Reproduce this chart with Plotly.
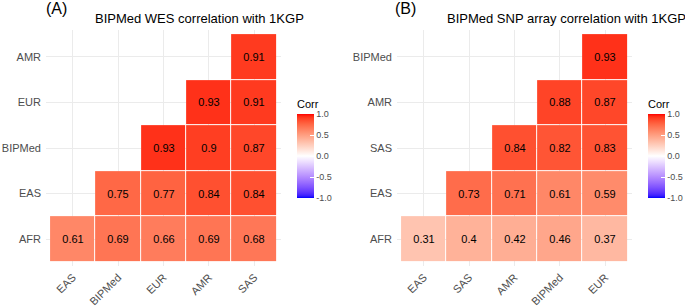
import plotly.graph_objects as go

# ---- data ----
a_x = ["EAS", "BIPMed", "EUR", "AMR", "SAS"]
a_y = ["AFR", "EAS", "BIPMed", "EUR", "AMR"]
a_afr = [0.61, 0.69, 0.66, 0.69, 0.68]
a_eas = [None, 0.75, 0.77, 0.84, 0.84]
a_bipmed = [None, None, 0.93, 0.9, 0.87]
a_eur = [None, None, None, 0.93, 0.91]
a_amr = [None, None, None, None, 0.91]

b_x = ["EAS", "SAS", "AMR", "BIPMed", "EUR"]
b_y = ["AFR", "EAS", "SAS", "AMR", "BIPMed"]
b_afr = [0.31, 0.4, 0.42, 0.46, 0.37]
b_eas = [None, 0.73, 0.71, 0.61, 0.59]
b_sas = [None, None, 0.84, 0.82, 0.83]
b_amr = [None, None, None, 0.88, 0.87]
b_bipmed = [None, None, None, None, 0.93]

title_a = "BIPMed WES correlation with 1KGP"
title_b = "BIPMed SNP array correlation with 1KGP"
cb_vals = [1.0, 0.5, 0.0, -0.5, -1.0]
cb_text = ["1.0", "0.5", "0.0", "-0.5", "-1.0"]

z_a = [a_afr, a_eas, a_bipmed, a_eur, a_amr]
z_b = [b_afr, b_eas, b_sas, b_amr, b_bipmed]

# ---- Lab-interpolated diverging colour scale (blue - white - red) ----
def srgb_to_lab(rgb):
    def lin(c):
        c = c / 255.0
        return c / 12.92 if c <= 0.04045 else ((c + 0.055) / 1.055) ** 2.4
    r, g, b = [lin(c) for c in rgb]
    X = 0.4124 * r + 0.3576 * g + 0.1805 * b
    Y = 0.2126 * r + 0.7152 * g + 0.0722 * b
    Z = 0.0193 * r + 0.1192 * g + 0.9505 * b
    Xn, Yn, Zn = 0.95047, 1.0, 1.08883
    def f(t):
        return t ** (1 / 3) if t > 0.008856 else 7.787 * t + 16 / 116
    fx_, fy_, fz_ = f(X / Xn), f(Y / Yn), f(Z / Zn)
    return (116 * fy_ - 16, 500 * (fx_ - fy_), 200 * (fy_ - fz_))

def lab_to_srgb(lab):
    L, a, b = lab
    fy_ = (L + 16) / 116
    fx_ = fy_ + a / 500
    fz_ = fy_ - b / 200
    def finv(t):
        return t ** 3 if t ** 3 > 0.008856 else (t - 16 / 116) / 7.787
    Xn, Yn, Zn = 0.95047, 1.0, 1.08883
    X, Y, Z = Xn * finv(fx_), Yn * finv(fy_), Zn * finv(fz_)
    r = 3.2406 * X - 1.5372 * Y - 0.4986 * Z
    g = -0.9689 * X + 1.8758 * Y + 0.0415 * Z
    bb = 0.0557 * X - 0.2040 * Y + 1.0570 * Z
    def gam(c):
        c = max(0.0, min(1.0, c))
        return 12.92 * c if c <= 0.0031308 else 1.055 * c ** (1 / 2.4) - 0.055
    return tuple(int(round(gam(c) * 255)) for c in (r, g, bb))

low, mid, high = srgb_to_lab((0, 0, 255)), srgb_to_lab((255, 255, 255)), srgb_to_lab((255, 0, 0))
cscale = []
N = 40
for i in range(N + 1):
    t = i / N
    if t <= 0.5:
        u = t / 0.5
        lab = tuple(low[k] + (mid[k] - low[k]) * u for k in range(3))
    else:
        u = (t - 0.5) / 0.5
        lab = tuple(mid[k] + (high[k] - mid[k]) * u for k in range(3))
    r, g, b = lab_to_srgb(lab)
    cscale.append([t, f"rgb({r},{g},{b})"])

W, H = 685, 306
def fx(px):
    return px / W
def fy(py):
    return 1 - py / H

def txt(z):
    return [["" if v is None else f"{v:g}" for v in row] for row in z]

font_fam = "Liberation Sans, Arial, sans-serif"

fig = go.Figure()

def add_panel(z, xs, ys, xa, ya, cb_x):
    fig.add_trace(go.Heatmap(
        z=z, x=xs, y=ys, xaxis=xa, yaxis=ya,
        text=txt(z), texttemplate="%{text}",
        textfont=dict(size=11, color="black", family=font_fam),
        colorscale=cscale, zmin=-1, zmax=1,
        xgap=1, ygap=1, hoverongaps=False,
        colorbar=dict(
            x=fx(cb_x), xanchor="left", xpad=0, ypad=0,
            y=fy(198), yanchor="bottom",
            len=101, lenmode="pixels", thickness=17, thicknessmode="pixels",
            outlinewidth=0,
            tickvals=cb_vals, ticktext=cb_text,
            ticks="inside", ticklen=4, tickcolor="white",
            tickfont=dict(size=9, color="#4d4d4d", family=font_fam),
            title=dict(text="Corr", side="top", font=dict(size=11, color="black", family=font_fam)),
        ),
    ))

add_panel(z_a, a_x, a_y, "x", "y", 297)
add_panel(z_b, b_x, b_y, "x2", "y2", 648)

ax_common = dict(
    type="category", showgrid=True, gridcolor="#ebebeb", gridwidth=1,
    zeroline=False, showline=False, ticks="", range=[-0.59, 4.59],
    tickfont=dict(size=11, color="#4d4d4d", family=font_fam),
)

fig.update_layout(
    width=W, height=H,
    margin=dict(l=0, r=0, t=0, b=0, autoexpand=False),
    paper_bgcolor="white", plot_bgcolor="white",
    font=dict(family=font_fam),
    xaxis=dict(domain=[fx(46), fx(281)], anchor="y", tickangle=-45, ticklabelstandoff=2, **ax_common),
    yaxis=dict(domain=[fy(266), fy(30)], anchor="x", ticklabelstandoff=4, **ax_common),
    xaxis2=dict(domain=[fx(397), fx(632)], anchor="y2", tickangle=-45, ticklabelstandoff=2, **ax_common),
    yaxis2=dict(domain=[fy(266), fy(30)], anchor="x2", ticklabelstandoff=4, **ax_common),
    annotations=[
        dict(text=title_a, x=fx(200), y=fy(18), xref="paper", yref="paper",
             xanchor="center", yanchor="middle", showarrow=False,
             font=dict(size=13, color="black", family=font_fam)),
        dict(text=title_b, x=fx(566), y=fy(18), xref="paper", yref="paper",
             xanchor="center", yanchor="middle", showarrow=False,
             font=dict(size=13, color="black", family=font_fam)),
        dict(text="(A)", x=fx(44), y=fy(8), xref="paper", yref="paper",
             xanchor="left", yanchor="middle", showarrow=False,
             font=dict(size=16, color="black", family=font_fam)),
        dict(text="(B)", x=fx(393), y=fy(8), xref="paper", yref="paper",
             xanchor="left", yanchor="middle", showarrow=False,
             font=dict(size=16, color="black", family=font_fam)),
    ],
)

fig.write_html("out.html", config={"displayModeBar": False},
               post_script="document.body.style.margin='0';document.body.style.padding='0';")
